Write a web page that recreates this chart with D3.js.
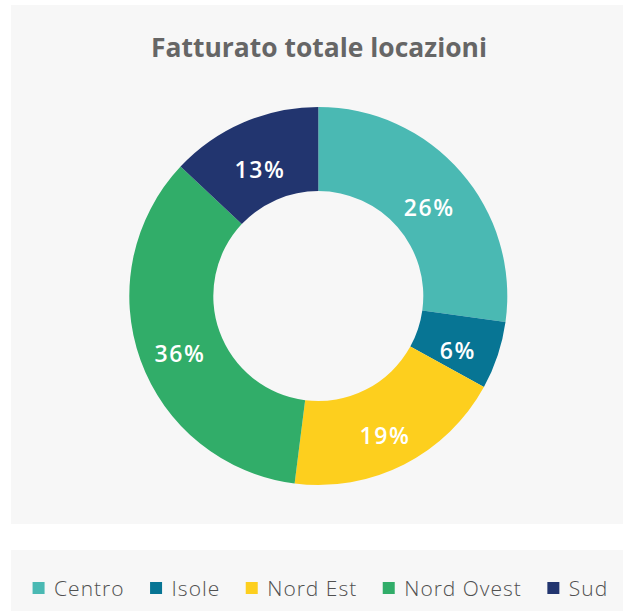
<!DOCTYPE html>
<html>
<head>
<meta charset="utf-8">
<script src="https://cdn.jsdelivr.net/npm/d3@7"></script>
<style>
  body { margin: 0; background: #fff; }
  svg { display: block; }
</style>
</head>
<body>
<div id="chart"></div>
<script>
// regions, in drawing order (clockwise from 12 o'clock)
var categories = ["Centro", "Isole", "Nord Est", "Nord Ovest", "Sud"];
// slice sizes
var values = [27.2, 5.8, 19.0, 35.0, 13.0];
// the percentages printed on the slices
var percentLabels = ["26%", "6%", "19%", "36%", "13%"];
var colors = ["#4ab9b3", "#077594", "#fdcf1e", "#31ad69", "#22356f"];

var width = 623,
  height = 611,
  cx = 318.3,
  cy = 296,
  outerR = 189,
  innerR = 105;

var svg = d3.select("#chart")
  .append("svg")
  .attr("width", width)
  .attr("height", height);

// panels
svg.append("rect")
  .attr("x", 11).attr("y", 5)
  .attr("width", width - 11).attr("height", 519)
  .attr("fill", "#f7f7f7");

svg.append("rect")
  .attr("x", 11).attr("y", 550)
  .attr("width", width - 11).attr("height", height - 550)
  .attr("fill", "#f7f7f7");

svg.append("text")
  .attr("x", 319)
  .attr("y", 56.5)
  .attr("text-anchor", "middle")
  .attr("font-family", "'Open Sans', sans-serif")
  .attr("font-weight", 700)
  .attr("font-size", 27)
  .attr("textLength", 336)
  .attr("lengthAdjust", "spacingAndGlyphs")
  .attr("fill", "#666666")
  .text("Fatturato totale locazioni");

var color = d3.scaleOrdinal().domain(categories).range(colors);

var pie = d3.pie()
  .value(function (d, i) { return values[i]; })
  .sort(null);

var arc = d3.arc().innerRadius(innerR).outerRadius(outerR);

var g = svg.append("g")
  .attr("transform", "translate(" + cx + "," + cy + ")");

var arcs = pie(categories);

g.selectAll("path.slice")
  .data(arcs)
  .enter().append("path")
  .attr("class", "slice")
  .attr("d", arc)
  .attr("fill", function (d) { return color(d.data); });

// labels hang just below the slice centroid
g.selectAll("text.pct")
  .data(arcs)
  .enter().append("text")
  .attr("class", "pct")
  .attr("transform", function (d) { return "translate(" + arc.centroid(d) + ")"; })
  .attr("text-anchor", "middle")
  .attr("dy", "0.72em")
  .attr("font-family", "'Open Sans', sans-serif")
  .attr("font-weight", 600)
  .attr("font-size", 23)
  .attr("letter-spacing", 1.6)
  .attr("fill", "#ffffff")
  .text(function (d, i) { return percentLabels[i]; });

// legend, centred in the bottom panel
var legend = svg.append("g");
var x = 0;
categories.forEach(function (c, i) {
  var item = legend.append("g").attr("transform", "translate(" + x + ",0)");
  item.append("rect")
    .attr("x", 0).attr("y", -6)
    .attr("width", 12).attr("height", 12)
    .attr("fill", color(c));
  var t = item.append("text")
    .attr("x", 21.5)
    .attr("y", 0)
    .attr("dy", "0.36em")
    .attr("font-family", "'Open Sans', sans-serif")
    .attr("font-weight", 300)
    .attr("font-size", 21)
    .attr("letter-spacing", 1)
    .attr("fill", "#505050")
    .text(c);
  x += 21.5 + t.node().getComputedTextLength() + 25.5;
});
var total = x - 25.5;
legend.attr("transform", "translate(" + (320.4 - total / 2) + ",588)");
</script>
</body>
</html>
